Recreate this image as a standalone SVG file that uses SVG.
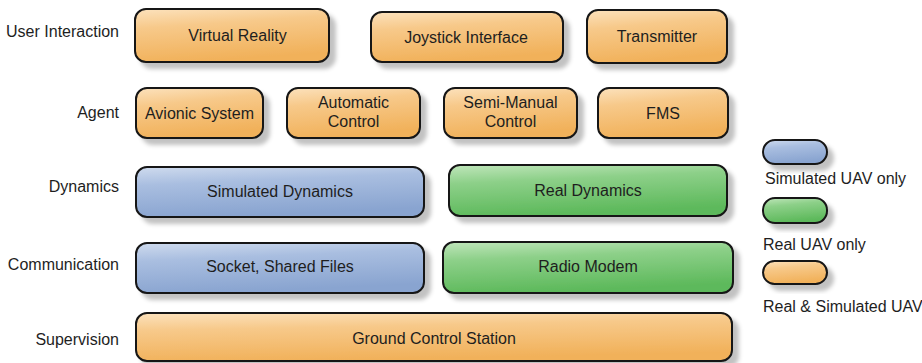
<svg xmlns="http://www.w3.org/2000/svg" width="922" height="363" viewBox="0 0 922 363">
<defs>
<linearGradient id="gO" x1="0" y1="0" x2="0.25" y2="1">
<stop offset="0" stop-color="#fce2bd"/>
<stop offset="0.35" stop-color="#f7c98a"/>
<stop offset="1" stop-color="#f1b15a"/>
</linearGradient>
<linearGradient id="gB" x1="0" y1="0" x2="0.25" y2="1">
<stop offset="0" stop-color="#cfdbee"/>
<stop offset="0.35" stop-color="#a9bee0"/>
<stop offset="1" stop-color="#89a4d0"/>
</linearGradient>
<linearGradient id="gG" x1="0" y1="0" x2="0.25" y2="1">
<stop offset="0" stop-color="#c0e6bb"/>
<stop offset="0.35" stop-color="#8dd089"/>
<stop offset="1" stop-color="#5db95b"/>
</linearGradient>
<filter id="sh" x="-10%" y="-20%" width="130%" height="160%">
<feGaussianBlur in="SourceAlpha" stdDeviation="2"/>
<feOffset dx="6" dy="6" result="b"/>
<feFlood flood-color="#000" flood-opacity="0.24"/>
<feComposite in2="b" operator="in"/>
<feMerge><feMergeNode/><feMergeNode in="SourceGraphic"/></feMerge>
</filter>
</defs>
<style>
.n{stroke:#151515;stroke-width:2;filter:url(#sh)}
.o{fill:url(#gO)}
.b{fill:url(#gB)}
.g{fill:url(#gG)}
text{font-family:"Liberation Sans",Arial,sans-serif;font-size:16px;fill:#1e1e1e}
.c{text-anchor:middle}
.l{text-anchor:end}
</style>
<rect width="922" height="363" fill="#fff"/>
<g id="labels">
<text class="l" x="119" y="37">User Interaction</text>
<text class="l" x="119" y="118">Agent</text>
<text class="l" x="119" y="192">Dynamics</text>
<text class="l" x="119" y="270">Communication</text>
<text class="l" x="119" y="345">Supervision</text>
</g>
<g id="virtual-reality"><rect class="n o" x="135" y="9" width="194" height="53" rx="11"/><text class="c" x="237.5" y="41">Virtual Reality</text></g>
<g id="joystick-interface"><rect class="n o" x="371" y="12" width="192" height="50" rx="11"/><text class="c" x="466" y="43">Joystick Interface</text></g>
<g id="transmitter"><rect class="n o" x="587" y="10" width="140" height="53" rx="11"/><text class="c" x="657" y="42">Transmitter</text></g>
<g id="avionic-system"><rect class="n o" x="136" y="88" width="127" height="50" rx="11"/><text class="c" x="199.5" y="119">Avionic System</text></g>
<g id="automatic-control"><rect class="n o" x="287" y="88" width="133" height="50" rx="11"/><text class="c" x="353.5" y="108">Automatic</text><text class="c" x="353.5" y="127">Control</text></g>
<g id="semi-manual-control"><rect class="n o" x="444" y="88" width="133" height="50" rx="11"/><text class="c" x="510.5" y="108">Semi-Manual</text><text class="c" x="510.5" y="127">Control</text></g>
<g id="fms"><rect class="n o" x="598" y="88" width="130" height="50" rx="11"/><text class="c" x="663" y="119">FMS</text></g>
<g id="simulated-dynamics"><rect class="n b" x="136" y="167" width="288" height="50" rx="11"/><text class="c" x="280" y="197">Simulated Dynamics</text></g>
<g id="real-dynamics"><rect class="n g" x="449" y="165" width="278" height="51" rx="11"/><text class="c" x="588" y="196">Real Dynamics</text></g>
<g id="socket-shared-files"><rect class="n b" x="136" y="243" width="288" height="50" rx="11"/><text class="c" x="280" y="272">Socket, Shared Files</text></g>
<g id="radio-modem"><rect class="n g" x="443" y="242" width="290" height="51" rx="11"/><text class="c" x="588" y="272">Radio Modem</text></g>
<g id="ground-control-station"><rect class="n o" x="136" y="313" width="596" height="48" rx="11"/><text class="c" x="434" y="344">Ground Control Station</text></g>
<g id="legend-simulated"><rect class="n b" x="763" y="140" width="64" height="24" rx="12"/><text x="765" y="184">Simulated UAV only</text></g>
<g id="legend-real"><rect class="n g" x="763" y="198" width="64" height="25" rx="12"/><text x="763" y="250">Real UAV only</text></g>
<g id="legend-both"><rect class="n o" x="763" y="261" width="64" height="23" rx="11.5"/><text x="763" y="312">Real &amp; Simulated UAV</text></g>
<g id="connectors"></g>
</svg>
